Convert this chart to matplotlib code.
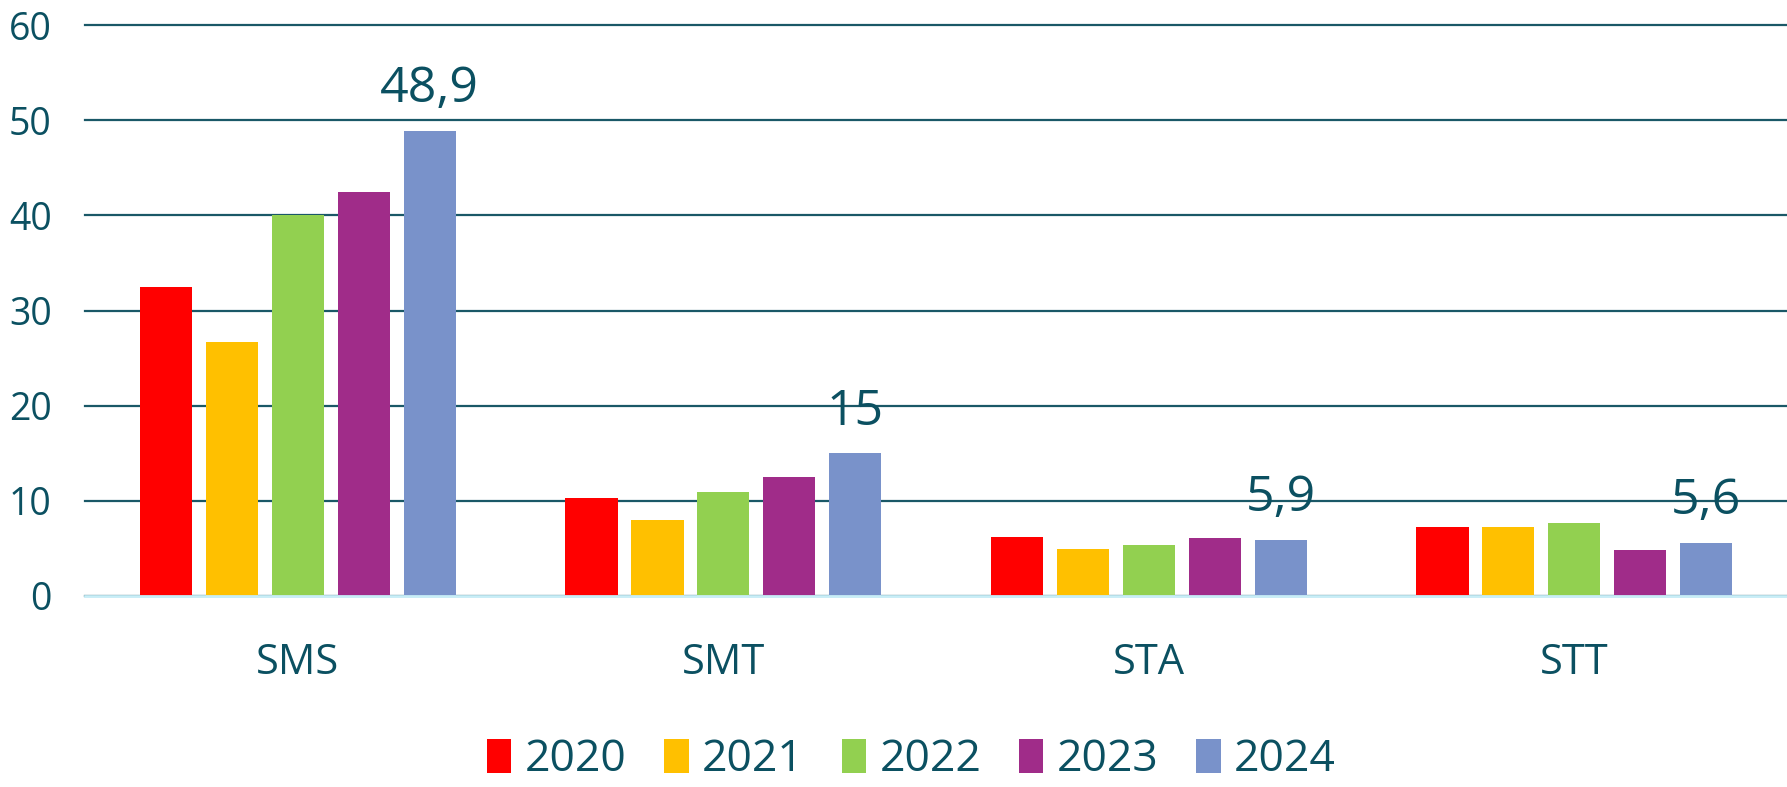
import matplotlib
matplotlib.use("Agg")
import matplotlib.pyplot as plt
import numpy as np

categories = ["SMS", "SMT", "STA", "STT"]
years = ["2020", "2021", "2022", "2023", "2024"]
v2020 = [32.5, 10.3, 6.2, 7.2]
v2021 = [26.7, 8.0, 4.95, 7.2]
v2022 = [40.1, 10.9, 5.4, 7.7]
v2023 = [42.5, 12.5, 6.05, 4.85]
v2024 = [48.9, 15.0, 5.9, 5.6]
labels_2024 = ["48,9", "15", "5,9", "5,6"]
colors = ["#FF0000", "#FFC000", "#92D050", "#A02C89", "#7992CA"]

series = [v2020, v2021, v2022, v2023, v2024]
text_color = "#0B5061"
plt.rcParams["font.family"] = ["Open Sans", "DejaVu Sans"]

fig = plt.figure(figsize=(17.87, 7.87), dpi=100)
ax = fig.add_axes([0.0476, 0.2427, 0.9524, 0.968 - 0.2427])

x = np.arange(len(categories))
width = 0.123
pitch = 0.155
bars = []
for i, (vals, yr, c) in enumerate(zip(series, years, colors)):
    b = ax.bar(x + (i - 2) * pitch, vals, width, color=c, label=yr, zorder=3)
    bars.append(b)

for rect, lab in zip(bars[-1], labels_2024):
    ax.annotate(lab, (rect.get_x() + rect.get_width() / 2, rect.get_height()),
                xytext=(0, 12), textcoords="offset points", ha="center", va="bottom",
                fontsize=36, color=text_color, zorder=4)

ax.set_xlim(-0.5, 3.5)
ax.set_ylim(0, 60)
ax.set_yticks(range(0, 61, 10))
ax.yaxis.grid(True, color="#1A5867", linewidth=1.6, zorder=0)
for gl in ax.get_ygridlines():
    gl.set_clip_on(False)
ax.set_axisbelow(True)
for s in ["left", "right", "top"]:
    ax.spines[s].set_visible(False)
ax.spines["bottom"].set_color("#C8EEF7")
ax.spines["bottom"].set_linewidth(2)
ax.spines["bottom"].set_zorder(5)
ax.set_xticks(x)
ax.set_xticklabels(categories)
ax.tick_params(axis="x", length=0, pad=33, labelsize=30, labelcolor=text_color)
ax.tick_params(axis="y", length=0, pad=24, labelsize=27, labelcolor=text_color)

leg = fig.legend(loc="lower center", bbox_to_anchor=(0.51, -0.045), ncol=5, frameon=False,
                 fontsize=32, handlelength=0.55, handleheight=0.8, handletextpad=0.3,
                 columnspacing=0.85, labelcolor=text_color)

fig.savefig("out.png", dpi=100)
